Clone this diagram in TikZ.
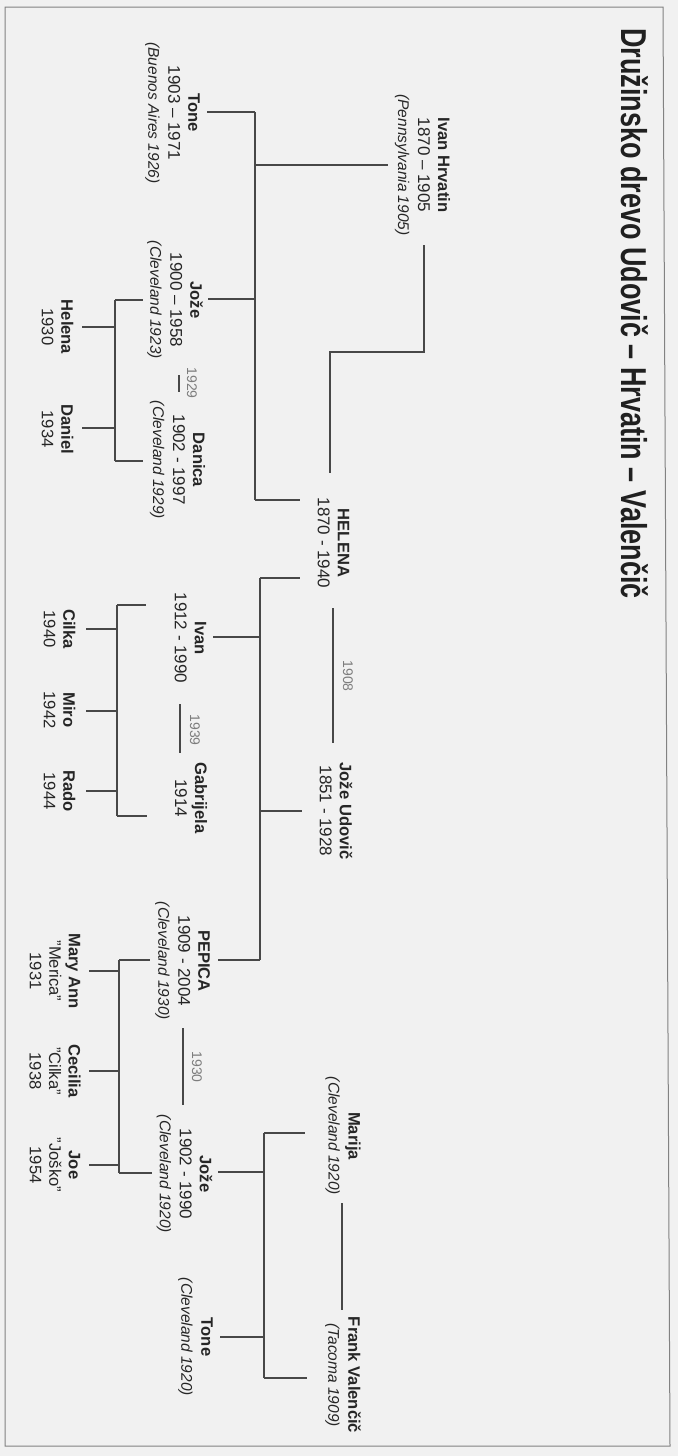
\documentclass[tikz,border=0pt]{standalone}
\usepackage{fontspec}
\setmainfont{Liberation Sans}
\usepackage{graphicx}
\definecolor{bgc}{RGB}{241,241,241}
\definecolor{ink}{RGB}{38,38,38}
\definecolor{wirec}{RGB}{72,72,72}
\definecolor{yrc}{RGB}{125,125,125}
\definecolor{framec}{RGB}{130,130,130}
\newcommand{\nm}[1]{{\fontsize{16.6}{20}\selectfont\bfseries #1}}
\newcommand{\plc}[1]{{\fontsize{15.5}{20}\selectfont\itshape #1}}
\tikzset{
  person/.style={rotate=-90, align=center, inner sep=0pt, text=ink, font=\fontsize{17}{20}\selectfont},
  kid/.style={rotate=-90, align=center, inner sep=0pt, text=ink, font=\fontsize{16.6}{19.5}\selectfont},
  wire/.style={draw=wirec, line width=1.4pt},
  yearlbl/.style={rotate=-90, inner sep=0pt, text=yrc, font=\fontsize{14}{16}\selectfont},
}
\begin{document}
\begin{tikzpicture}[x=1pt,y=-1pt]
\fill[bgc] (0,0) rectangle (678,1456);
\useasboundingbox (0,0) rectangle (678,1456);
\draw[framec, line width=1pt] (5,7) -- (663,7) -- (670,1446) -- (5,1446) -- cycle;

% title
\node[rotate=-90, inner sep=0pt, text=ink!85!black] (title) at (635,313.5)
  {\scalebox{0.75}[1]{\fontsize{36}{40}\selectfont\bfseries Družinsko drevo Udovič – Hrvatin – Valenčič}};

% people
\node[person] (ivanh) at (422.5,165) {\nm{Ivan Hrvatin}\\1870 – 1905\\\plc{(Pennsylvania 1905)}};
\node[person] (tonea) at (172.5,113) {\nm{Tone}\\1903 – 1971\\\plc{(Buenos Aires 1926)}};
\node[person] (jozea) at (175,300) {\nm{Jože}\\1900 – 1958\\\plc{(Cleveland 1923)}};
\node[person] (danica) at (177.5,460) {\nm{Danica}\\1902 - 1997\\\plc{(Cleveland 1929)}};
\node[person] (helena) at (333.5,543) {\nm{HELENA}\\1870 - 1940};
\node[person] (jozeu) at (336,811) {\nm{Jože Udovič}\\1851 - 1928};
\node[person] (ivanb) at (190.5,638) {\nm{Ivan}\\1912 - 1990};
\node[person] (gabr) at (191,798) {\nm{Gabrijela}\\1914};
\node[person] (pepica) at (182.5,961) {\nm{PEPICA}\\1909 - 2004\\\plc{(Cleveland 1930)}};
\node[person] (jozev) at (184.5,1174) {\nm{Jože}\\1902 - 1990\\\plc{(Cleveland 1920)}};
\node[person] (marija) at (343,1136) {\nm{Marija}\\\plc{(Cleveland 1920)}};
\node[person] (frank) at (343,1375) {\nm{Frank Valenčič}\\\plc{(Tacoma 1909)}};
\node[person] (toneb) at (195.5,1337) {\nm{Tone}\\\plc{(Cleveland 1920)}};

% grandchildren
\node[kid] (helk) at (57.5,327) {\nm{Helena}\\1930};
\node[kid] (daniel) at (57.5,429) {\nm{Daniel}\\1934};
\node[kid] (cilka) at (59.5,629) {\nm{Cilka}\\1940};
\node[kid] (miro) at (59.5,710) {\nm{Miro}\\1942};
\node[kid] (rado) at (59.5,791) {\nm{Rado}\\1944};
\node[kid] (mary) at (55,971) {\nm{Mary Ann}\\"Merica"\\1931};
\node[kid] (cecilia) at (55,1071) {\nm{Cecilia}\\"Cilka"\\1938};
\node[kid] (joe) at (55,1165) {\nm{Joe}\\"Joško"\\1954};

% marriage years
\node[yearlbl] (y1908) at (348,676) {1908};
\node[yearlbl] (y1929) at (192,383) {1929};
\node[yearlbl] (y1939) at (195,730) {1939};
\node[yearlbl] (y1930) at (197,1067) {1930};

% ---- family 1 bus
\coordinate (b1t) at (255,112);
\coordinate (b1i) at (255,165);
\coordinate (b1j) at (255,299);
\coordinate (b1b) at (255,500);
\coordinate (t1a) at (207,112);
\coordinate (t1i) at (388,165);
\coordinate (t1j) at (208,299);
\coordinate (t1h) at (300,500);
\draw[wire] (b1t) -- (b1b);
\draw[wire] (t1a) -- (b1t);
\draw[wire] (b1i) -- (t1i);
\draw[wire] (t1j) -- (b1j);
\draw[wire] (b1b) -- (t1h);
% marriage Ivan Hrvatin - Helena
\coordinate (m1a) at (424,245);
\coordinate (m1b) at (424,352);
\coordinate (m1c) at (330,352);
\coordinate (m1d) at (330,473);
\draw[wire] (m1a) -- (m1b) -- (m1c) -- (m1d);

% ---- family 2 bus
\coordinate (b2t) at (260,578);
\coordinate (b2i) at (260,637);
\coordinate (b2u) at (260,811);
\coordinate (b2b) at (260,960);
\coordinate (t2h) at (300,578);
\coordinate (t2i) at (213,637);
\coordinate (t2u) at (302,811);
\coordinate (t2p) at (218,960);
\draw[wire] (b2t) -- (b2b);
\draw[wire] (b2t) -- (t2h);
\draw[wire] (t2i) -- (b2i);
\draw[wire] (b2u) -- (t2u);
\draw[wire] (t2p) -- (b2b);
% marriage Helena - Joze Udovic
\coordinate (m2a) at (333,608);
\coordinate (m2b) at (333,743);
\draw[wire] (m2a) -- (m2b);

% ---- family 3 bus
\coordinate (b3t) at (264,1133);
\coordinate (b3j) at (264,1172);
\coordinate (b3n) at (264,1337);
\coordinate (b3b) at (264,1378);
\coordinate (t3m) at (305,1133);
\coordinate (t3j) at (218,1172);
\coordinate (t3n) at (220,1337);
\coordinate (t3f) at (307,1378);
\draw[wire] (b3t) -- (b3b);
\draw[wire] (b3t) -- (t3m);
\draw[wire] (t3j) -- (b3j);
\draw[wire] (t3n) -- (b3n);
\draw[wire] (b3b) -- (t3f);
% marriage Marija - Frank
\coordinate (m3a) at (342,1203);
\coordinate (m3b) at (342,1310);
\draw[wire] (m3a) -- (m3b);

% ---- Joze & Danica
\coordinate (m4a) at (179,375);
\coordinate (m4b) at (179,392);
\draw[wire] (m4a) -- (m4b);
\coordinate (b4t) at (115,300);
\coordinate (b4h) at (115,327);
\coordinate (b4d) at (115,428);
\coordinate (b4b) at (115,461);
\coordinate (t4t) at (143,300);
\coordinate (t4b) at (143,461);
\coordinate (t4h) at (82,327);
\coordinate (t4d) at (82,428);
\draw[wire] (b4t) -- (b4b);
\draw[wire] (b4t) -- (t4t);
\draw[wire] (b4b) -- (t4b);
\draw[wire] (t4h) -- (b4h);
\draw[wire] (t4d) -- (b4d);

% ---- Ivan & Gabrijela
\coordinate (m5a) at (180,704);
\coordinate (m5b) at (180,753);
\draw[wire] (m5a) -- (m5b);
\coordinate (b5t) at (117,605);
\coordinate (b5c) at (117,629);
\coordinate (b5m) at (117,711);
\coordinate (b5r) at (117,791);
\coordinate (b5b) at (117,816);
\coordinate (t5t) at (146,605);
\coordinate (t5b) at (147,816);
\coordinate (t5c) at (86,629);
\coordinate (t5m) at (86,711);
\coordinate (t5r) at (86,791);
\draw[wire] (b5t) -- (b5b);
\draw[wire] (b5t) -- (t5t);
\draw[wire] (b5b) -- (t5b);
\draw[wire] (t5c) -- (b5c);
\draw[wire] (t5m) -- (b5m);
\draw[wire] (t5r) -- (b5r);

% ---- Pepica & Joze
\coordinate (m6a) at (183,1028);
\coordinate (m6b) at (183,1105);
\draw[wire] (m6a) -- (m6b);
\coordinate (b6t) at (119,960);
\coordinate (b6m) at (119,971);
\coordinate (b6c) at (119,1071);
\coordinate (b6j) at (119,1165);
\coordinate (b6b) at (119,1173);
\coordinate (t6t) at (150,960);
\coordinate (t6b) at (152,1173);
\coordinate (t6m) at (89,971);
\coordinate (t6c) at (89,1071);
\coordinate (t6j) at (89,1165);
\draw[wire] (b6t) -- (b6b);
\draw[wire] (b6t) -- (t6t);
\draw[wire] (b6b) -- (t6b);
\draw[wire] (t6m) -- (b6m);
\draw[wire] (t6c) -- (b6c);
\draw[wire] (t6j) -- (b6j);
\end{tikzpicture}
\end{document}
